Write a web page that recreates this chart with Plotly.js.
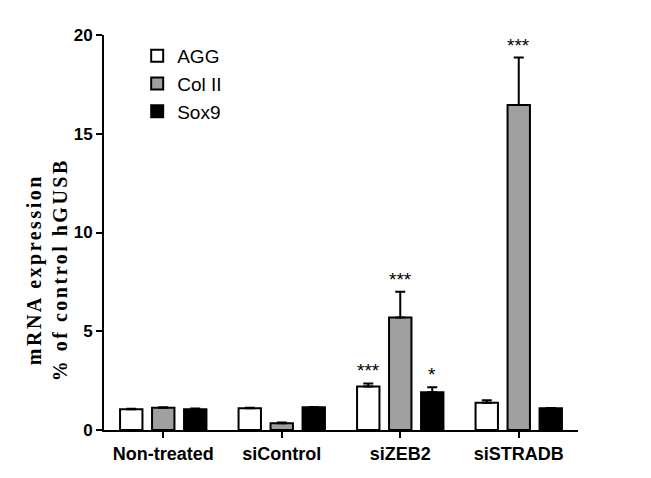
<!DOCTYPE html>
<html>
<head>
<meta charset="utf-8">
<script src="https://cdn.plot.ly/plotly-3.0.1.min.js"></script>
<style>body{margin:0;background:#fff}#chart{width:651px;height:478px}
g.annotation[data-index="0"] text{letter-spacing:2.5px}</style>
</head>
<body>
<div id="chart"></div>
<script>
const groups = ['Non-treated', 'siControl', 'siZEB2', 'siSTRADB'];
const aggVals = [1.05, 1.1, 2.2, 1.38];
const aggErr = [0.03, 0.03, 0.15, 0.13];
const colVals = [1.13, 0.34, 5.7, 16.46];
const colErr = [0.02, 0.04, 1.3, 2.4];
const soxVals = [1.05, 1.15, 1.91, 1.1];
const soxErr = [0.04, 0.02, 0.25, 0.02];
const yTitle = 'mRNA expression<br>% of control hGUSB';

// significance marks: [group index, series offset, label, y]
const stars = [
  [2, -1, '***', 2.36],
  [2, 0, '***', 7.0],
  [2, 1, '*', 2.16],
  [3, 0, '***', 18.86]
];

function series(name, vals, errs, fill) {
  return {
    x: groups, y: vals, type: 'bar', name: name,
    marker: {color: fill, line: {color: '#000', width: 2}},
    error_y: {type: 'data', symmetric: false, array: errs, arrayminus: errs.map(() => 0),
      color: '#000', thickness: 2, width: 5}
  };
}

const data = [
  series('AGG', aggVals, aggErr, '#ffffff'),
  series('Col II', colVals, colErr, '#a0a0a0'),
  series('Sox9', soxVals, soxErr, '#000000')
];

// y title as an annotation so it can sit a little below centre, like the original
const titleNote = {
  xref: 'paper', yref: 'paper', x: -0.121, y: 0.405, xanchor: 'center', yanchor: 'middle',
  text: yTitle, textangle: -90, showarrow: false,
  font: {family: 'Liberation Serif, Times New Roman', size: 20, color: '#000', weight: 'bold'}
};

const layout = {
  width: 651, height: 478,
  margin: {l: 104, r: 73, t: 35, b: 48},
  paper_bgcolor: '#fff', plot_bgcolor: '#fff',
  barmode: 'group', bargap: 0.19, bargroupgap: 0.3,
  showlegend: true,
  legend: {x: 0.07, y: 0.995, xanchor: 'left', yanchor: 'top', bgcolor: 'rgba(0,0,0,0)',
    font: {family: 'Liberation Sans, Arial', size: 19, color: '#000'}, tracegroupgap: 0,
    itemwidth: 30},
  xaxis: {
    range: [-0.5, 3.5], showline: true, linecolor: '#000', linewidth: 2,
    ticks: 'outside', ticklen: 6, tickwidth: 2, tickcolor: '#000',
    tickfont: {family: 'Liberation Sans, Arial', size: 18, color: '#000', weight: 'bold'},
    showgrid: false, zeroline: false, fixedrange: true
  },
  yaxis: {
    range: [0, 20], tickvals: [0, 5, 10, 15, 20],
    showline: true, linecolor: '#000', linewidth: 2,
    ticks: 'outside', ticklen: 6, tickwidth: 2, tickcolor: '#000',
    tickfont: {family: 'Liberation Sans, Arial', size: 17, color: '#000', weight: 'bold'},
    showgrid: false, zeroline: false
  },
  annotations: [titleNote].concat(stars.map(([g, off, label, y]) => ({
    x: g + off * 0.27, y: y, xref: 'x', yref: 'y', text: label, showarrow: false,
    yanchor: 'bottom', yshift: 0,
    font: {family: 'Liberation Sans, Arial', size: 19, color: '#000'}
  })))
};

Plotly.newPlot('chart', data, layout, {displayModeBar: false});
</script>
</body>
</html>
